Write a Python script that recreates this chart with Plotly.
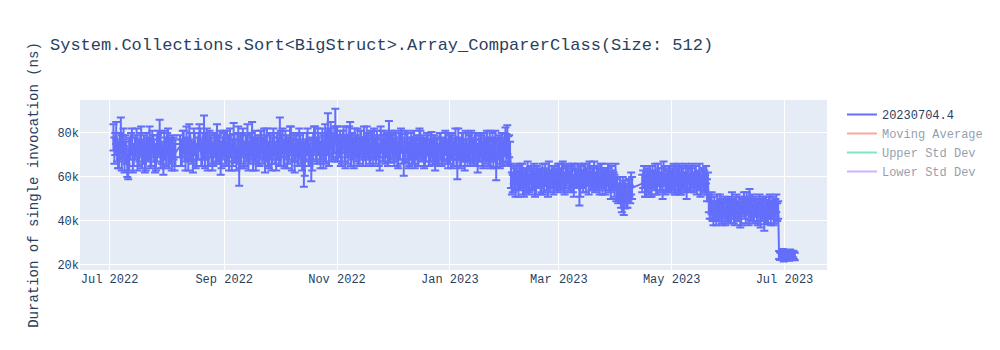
import pandas as pd
import plotly.graph_objects as go

TITLE = "System.Collections.Sort<BigStruct>.Array_ComparerClass(Size: 512)"
Y_TITLE = "Duration of single invocation (ns)"
SERIES_NAME = "20230704.4"

# values in thousands of ns; "a" = morning run, "b" = noon run, one each per day from the segment start
jul22_start = "2022-07-03"
jul22_a = [78, 75, 72, 70, 79, 74, 68, 71, 66, 73, 76, 70, 74, 69, 72, 77, 71, 68, 75, 73, 70, 76, 72, 69, 74, 78, 71, 67, 73, 75, 70, 72, 74, 69]
jul22_b = [72, 80, 69, 74, 71, 77, 73, 65, 70, 75, 68, 73, 77, 71, 75, 70, 74, 69, 72, 78, 71, 74, 67, 73, 76, 72, 69, 75, 70, 77, 72, 68, 73, 71]
jul22_err = [6, 5, 5, 6, 8, 5, 6, 5, 7, 5, 6, 5, 5, 6, 5, 6, 5, 6, 5, 5, 6, 5, 5, 6, 5, 8, 5, 6, 5, 5, 6, 5, 5, 6]

aug22_start = "2022-08-08"
aug22_a = [74, 71, 76, 69, 73, 78, 72, 68, 75, 70, 74, 77, 71, 80, 73, 69, 76, 72, 70, 74, 78, 71, 67, 73]
aug22_b = [70, 75, 72, 77, 68, 74, 71, 76, 69, 73, 78, 70, 74, 72, 77, 71, 74, 69, 75, 71, 73, 76, 70, 75]
aug22_err = [5, 6, 5, 6, 5, 6, 5, 6, 5, 5, 6, 5, 6, 8, 5, 6, 5, 6, 5, 5, 6, 5, 6, 5]

sep22_start = "2022-09-01"
sep22_a = [75, 70, 73, 77, 69, 78, 72, 74, 64, 71, 76, 70, 73, 68, 75, 79, 72, 69, 74, 71, 76, 73, 68, 77, 70, 74, 72, 75, 69, 73]
sep22_b = [72, 76, 69, 74, 71, 73, 68, 77, 72, 75, 70, 74, 78, 71, 73, 69, 76, 72, 70, 75, 71, 77, 73, 70, 74, 68, 76, 71, 74, 70]
sep22_err = [6, 5, 6, 5, 6, 6.5, 5, 6, 8, 5, 6, 5, 6, 5, 5, 6, 5, 6, 5, 6, 5, 5, 6, 5, 6, 5, 6, 5, 6, 5]

oct22_start = "2022-10-01"
oct22_a = [79, 74, 71, 76, 70, 73, 77, 72, 68, 75, 71, 74, 69, 63, 72, 76, 70, 65, 74, 78, 72, 75, 70, 77, 73, 71, 81, 76, 72, 74, 83]
oct22_b = [73, 77, 70, 74, 72, 78, 69, 75, 73, 70, 76, 71, 74, 68, 75, 71, 73, 70, 77, 72, 76, 71, 74, 69, 78, 75, 73, 79, 74, 77, 75]
oct22_err = [8, 5, 6, 5, 6, 5, 6, 5, 6, 5, 6, 5, 6, 7.5, 5, 6, 5, 7, 6, 5, 6, 5, 6, 5, 6, 5, 8, 6, 5, 6, 8]

nov22_start = "2022-11-01"
nov22_a = [77, 74, 71, 76, 73, 78, 72, 79, 75, 70, 74, 77, 72, 76, 71, 73, 78, 74, 70, 75, 77, 72, 74, 69, 76, 73, 71, 75, 79, 73]
nov22_b = [73, 76, 72, 78, 70, 74, 77, 71, 73, 76, 72, 70, 75, 73, 77, 70, 74, 72, 76, 71, 73, 75, 70, 77, 72, 75, 74, 70, 73, 76]
nov22_err = [6, 5, 6, 5, 6, 5, 6, 6, 5, 6, 5, 5, 6, 5, 6, 5, 5, 6, 5, 6, 5, 6, 5, 6, 5, 6, 5, 5, 6.5, 5]

dec22_start = "2022-12-01"
dec22_a = [74, 71, 75, 70, 73, 76, 67, 72, 74, 70, 75, 72, 69, 74, 71, 76, 73, 70, 72, 75, 71, 75, 72, 69, 73, 70, 74, 71, 72, 75, 70]
dec22_b = [72, 75, 70, 74, 77, 71, 73, 76, 70, 73, 71, 75, 73, 70, 76, 72, 74, 71, 75, 70, 73, 71, 74, 72, 70, 75, 71, 73, 76, 71, 74]
dec22_err = [5, 6, 5, 6, 5, 5, 6.5, 5, 6, 5, 5, 6, 5, 5, 6, 5, 5, 6, 5, 5, 6, 5.5, 5, 6, 5, 5, 6, 5, 5, 5, 6]

jan23_start = "2023-01-01"
jan23_a = [71, 74, 70, 76, 66, 73, 71, 75, 69, 72, 74, 70, 73, 71, 75, 68, 72, 74, 70, 73, 76, 71, 69, 74, 72, 65, 73, 70, 75, 72, 76, 77, 74]
jan23_b = [74, 70, 73, 71, 75, 69, 74, 72, 75, 70, 73, 76, 71, 74, 70, 73, 75, 70, 74, 71, 72, 75, 73, 70, 76, 71, 74, 72, 70, 75, 73, 72, 71]
jan23_err = [5, 6, 5, 6, 7, 5, 6, 5, 6, 5, 6, 5, 5, 6, 5, 6, 5, 5, 6, 5, 5, 6, 5, 6, 5, 6.5, 5, 6, 5, 5, 6.5, 6.5, 5]

feb23_start = "2023-02-03"
feb23_a = [60, 57, 59, 62, 56, 58, 61, 55, 59, 63, 57, 60, 58, 56, 61, 59, 57, 62, 58, 60, 56, 59, 61, 57, 60, 58]
feb23_b = [57, 61, 56, 59, 60, 62, 57, 60, 58, 56, 61, 59, 62, 57, 59, 60, 58, 56, 61, 58, 62, 57, 59, 60, 58, 61]
feb23_err = [5, 4, 5, 4, 5, 4, 5, 4, 5, 4, 4, 5, 4, 5, 4, 4, 5, 4, 5, 4, 5, 4, 4, 5, 4, 5]

mar23_start = "2023-03-01"
mar23_a = [62, 59, 63, 57, 60, 61, 58, 62, 56, 60, 59, 54, 61, 58, 62, 60, 57, 61, 59, 63, 58, 60, 56, 61, 59, 57, 60, 58, 55, 59, 56,
           54, 52, 55, 50, 49, 53, 51, 55, 57]
mar23_b = [59, 61, 57, 60, 62, 58, 60, 57, 61, 59, 62, 58, 59, 61, 57, 60, 62, 58, 60, 57, 61, 59, 62, 57, 60, 59, 62, 57, 60, 58, 61,
           55, 53, 51, 54, 52, 50, 54, 52, 55]
mar23_err = [4, 5, 4, 5, 4, 4, 5, 4, 5, 4, 4, 7, 4, 5, 4, 4, 5, 4, 5, 4, 4, 5, 4, 5, 4, 5, 4, 4, 5, 4, 5,
             5, 4, 5, 6, 6.3, 4, 5, 4, 5]

apr23_start = "2023-04-15"
apr23_a = [57, 60, 55, 58, 61, 56, 59, 62, 57, 60, 58, 55, 61, 59, 57, 60,
           58, 61, 56, 59, 62, 57, 60, 58, 55, 61, 59, 63, 57, 60, 58, 61, 56, 59, 57, 54]
apr23_b = [59, 56, 60, 57, 55, 60, 58, 56, 61, 57, 60, 62, 56, 58, 61, 58,
           60, 57, 61, 58, 56, 60, 57, 62, 59, 57, 60, 58, 61, 57, 59, 56, 60, 58, 61, 57]
apr23_err = [4, 5, 4, 5, 4, 5, 4, 4, 5, 4, 4, 5, 4, 5, 4, 5,
             4, 5, 4, 5, 4, 5, 4, 4, 5, 4, 5, 3, 4, 5, 4, 5, 4, 5, 4, 5]

may23_start = "2023-05-21"
may23_a = [48, 46, 44, 47, 43, 45, 48, 44, 46, 42, 45,
           47, 44, 46, 43, 48, 45, 42, 46, 49, 44, 47, 50, 45, 43, 47, 44, 46, 42, 45, 41, 47, 44, 48, 45, 43, 46, 44]
may23_b = [45, 48, 42, 45, 47, 44, 46, 43, 47, 45, 44,
           45, 48, 43, 46, 44, 47, 43, 47, 45, 48, 42, 45, 47, 44, 46, 43, 48, 45, 47, 44, 43, 46, 42, 47, 44, 48, 45]
may23_err = [4, 5, 4, 4, 5, 4, 4, 5, 4, 4, 5,
             4, 5, 4, 5, 4, 4, 5, 4, 4, 5, 4, 4.5, 5, 4, 4, 5, 4, 5, 4, 5.5, 4, 5, 4, 4, 5, 4, 4]

jun23_start = "2023-06-28"
jun23_a = [24.5, 23.8, 25.2, 24.0, 23.5, 24.8, 25.0, 23.9, 24.4]
jun23_b = [24.0, 25.0, 23.6, 24.7, 25.1, 23.7, 24.3, 25.0, 23.8]
jun23_err = [1.8, 1.5, 2.0, 1.6, 1.5, 1.8, 2.0, 1.5, 1.7]

segments = [
    (jul22_start, jul22_a, jul22_b, jul22_err),
    (aug22_start, aug22_a, aug22_b, aug22_err),
    (sep22_start, sep22_a, sep22_b, sep22_err),
    (oct22_start, oct22_a, oct22_b, oct22_err),
    (nov22_start, nov22_a, nov22_b, nov22_err),
    (dec22_start, dec22_a, dec22_b, dec22_err),
    (jan23_start, jan23_a, jan23_b, jan23_err),
    (feb23_start, feb23_a, feb23_b, feb23_err),
    (mar23_start, mar23_a, mar23_b, mar23_err),
    (apr23_start, apr23_a, apr23_b, apr23_err),
    (may23_start, may23_a, may23_b, may23_err),
    (jun23_start, jun23_a, jun23_b, jun23_err),
]

rows = []
for start, va, vb, e in segments:
    n = min(len(va), len(vb), len(e))
    days = pd.date_range(start, periods=n, freq="D")
    for i in range(n):
        rows.append((days[i] + pd.Timedelta(hours=2), va[i] * 1000, e[i] * 1000))
        rows.append((days[i] + pd.Timedelta(hours=14), vb[i] * 1000, e[i] * 1000))

df = pd.DataFrame(rows, columns=["date", "value", "err"]).sort_values("date")
roll = df["value"].rolling(14, min_periods=1)
moving_avg = roll.mean()
moving_std = roll.std().fillna(0)

FONT = "Courier New, Liberation Mono, monospace"

fig = go.Figure()
fig.add_trace(go.Scatter(
    x=df["date"], y=df["value"], mode="lines", name=SERIES_NAME,
    error_y=dict(type="data", array=df["err"], visible=True),
))
fig.add_trace(go.Scatter(x=df["date"], y=moving_avg, mode="lines",
                         name="Moving Average", visible="legendonly"))
fig.add_trace(go.Scatter(x=df["date"], y=moving_avg + moving_std, mode="lines",
                         name="Upper Std Dev", visible="legendonly"))
fig.add_trace(go.Scatter(x=df["date"], y=moving_avg - moving_std, mode="lines",
                         name="Lower Std Dev", visible="legendonly"))

fig.update_layout(
    width=1000, height=350,
    template="plotly",
    font=dict(family=FONT),
    title=dict(text=TITLE),
    yaxis=dict(title=dict(text=Y_TITLE), range=[17700, 95000]),
    xaxis=dict(range=["2022-06-15", "2023-07-24"]),
)

fig.write_html("out.html")
